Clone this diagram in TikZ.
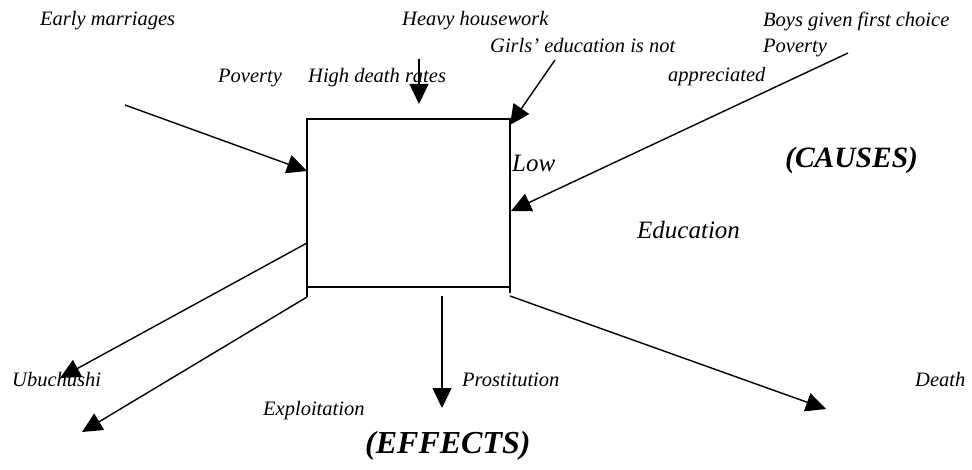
\documentclass[tikz,border=0pt]{standalone}
\usepackage{fontspec}
\setmainfont{Liberation Serif}
\usetikzlibrary{arrows.meta}
\begin{document}
\begin{tikzpicture}[x=1pt,y=-1pt,
  lbl/.style={anchor=base west,inner sep=0pt,font=\itshape\fontsize{20.5}{24}\selectfont},
  biglbl/.style={anchor=base west,inner sep=0pt,font=\itshape\fontsize{25}{30}\selectfont},
  head/.style={anchor=base west,inner sep=0pt,font=\bfseries\itshape\fontsize{29.5}{34}\selectfont},
  arr/.style={line width=1.4pt,-{Triangle[length=20pt,width=19pt]}},
  ln/.style={line width=1.4pt}]
\useasboundingbox (0,0) rectangle (972,470);
% central box
\node[draw,line width=1.4pt,minimum width=203pt,minimum height=168pt,inner sep=0pt,outer sep=0pt] (box) at (408.5,203) {};
\coordinate (lext) at (307,297);
\coordinate (rext) at (510,293);
\draw[ln] (box.south west) -- (lext);
\draw[ln] (box.south east) -- (rext);
% labels
\node[lbl] (early) at (40,26) {Early marriages};
\node[lbl] (heavy) at (402,26) {Heavy housework};
\node[lbl] (girls) at (490,53) {Girls’ education is not};
\node[lbl] (boys) at (763,27) {Boys given first choice};
\node[lbl] (pov2) at (763,53) {Poverty};
\node[lbl] (appr) at (668,82) {appreciated};
\node[lbl] (pov1) at (218,83) {Poverty};
\node[lbl] (high) at (308,83) {High death rates};
\node[biglbl] (low) at (512,172) {Low};
\node[biglbl] (edu) at (637,239) {Education};
\node[head] (causes) at (785,168) {(CAUSES)};
\node[lbl] (ubu) at (12,386) {Ubuchushi};
\node[lbl] (expl) at (263,415) {Exploitation};
\node[lbl] (pros) at (462,386) {Prostitution};
\node[lbl] (death) at (915,386) {Death};
\node[head,font=\bfseries\itshape\fontsize{32}{36}\selectfont] (effects) at (365,453) {(EFFECTS)};
% arrow endpoints
\coordinate (a1s) at (125,105); \coordinate (a1e) at (307,171);
\coordinate (a2s) at (419,59);  \coordinate (a2e) at (419,104);
\coordinate (a3s) at (555,60);  \coordinate (a3e) at (510,125);
\coordinate (a4s) at (848,53);  \coordinate (a4e) at (511,211);
\coordinate (a5s) at (307,243); \coordinate (a5e) at (60,378);
\coordinate (a6s) at (lext);    \coordinate (a6e) at (82,432);
\coordinate (a7s) at (442,296); \coordinate (a7e) at (442,408);
\coordinate (a8s) at (510,296); \coordinate (a8e) at (826,409);
\draw[arr] (a1s) -- (a1e);
\draw[arr] (a2s) -- (a2e);
\draw[arr] (a3s) -- (a3e);
\draw[arr] (a4s) -- (a4e);
\draw[arr] (a5s) -- (a5e);
\draw[arr] (a6s) -- (a6e);
\draw[arr] (a7s) -- (a7e);
\draw[arr] (a8s) -- (a8e);
\end{tikzpicture}
\end{document}
